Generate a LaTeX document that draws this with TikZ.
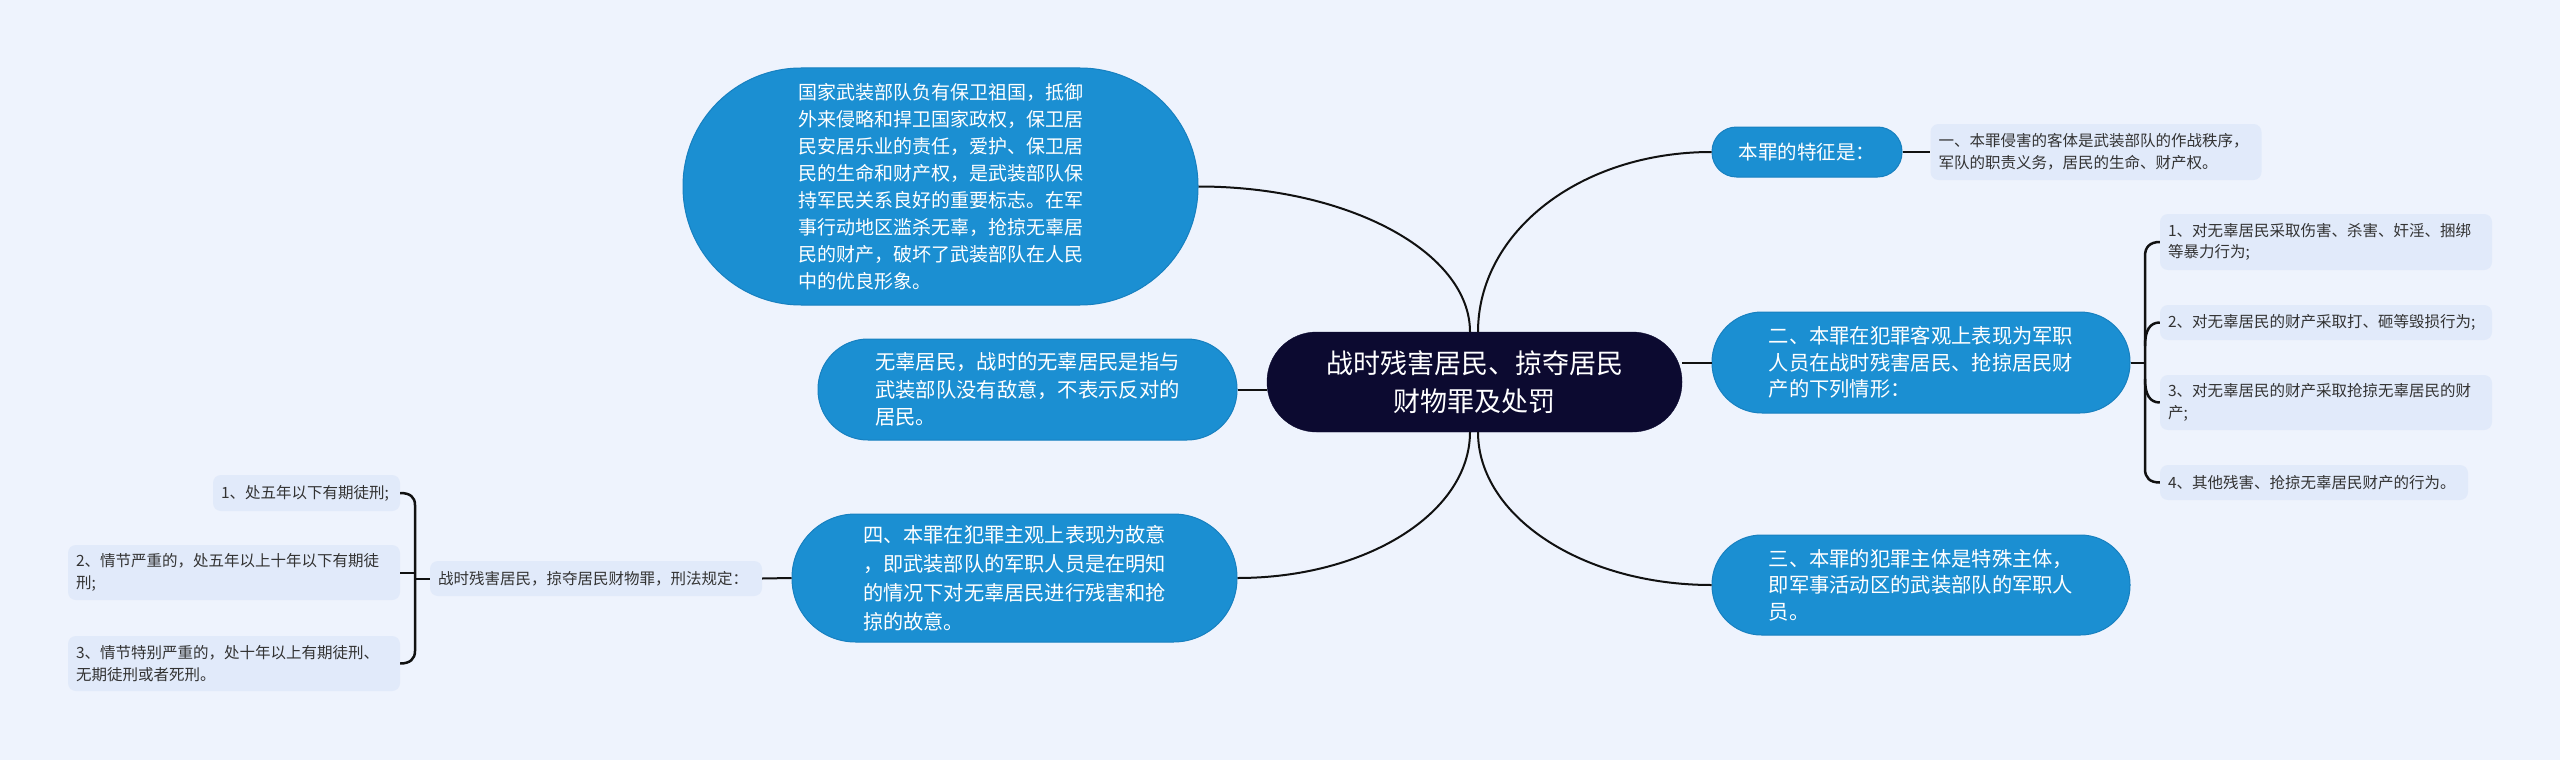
\documentclass[tikz,border=0pt]{standalone}
\usepackage{fontspec}
\setmainfont{Noto Sans CJK SC}
\newcommand{\myfs}[2]{\fontsize{#1}{#2}\selectfont}
\definecolor{bg}{HTML}{EEF3FD}
\definecolor{nodeblue}{HTML}{1B8FD2}
\definecolor{nodeborder}{HTML}{1780C0}
\definecolor{navy}{HTML}{0C0A30}
\definecolor{leaffill}{HTML}{E1EAFA}
\definecolor{leaftext}{HTML}{333333}
\definecolor{linecol}{HTML}{111111}
\begin{document}
\begin{tikzpicture}[x=1pt,y=-1pt,
  bluebox/.style={fill=nodeblue, draw=nodeborder, line width=1pt, text=white, inner sep=0pt, align=left},
  rootbox/.style={fill=navy, draw=navy, text=white, inner sep=0pt, align=center},
  leaf/.style={fill=leaffill, rounded corners=8pt, text=leaftext, inner xsep=8pt, inner ysep=0pt, align=left, font=\myfs{15.5}{21.5}},
  conn/.style={draw=linecol, line width=2pt},
  brace/.style={draw=linecol, line width=2.5pt}]
\fill[bg] (0,0) rectangle (2560,760);
\useasboundingbox (0,0) rectangle (2560,760);

% central
\node[rootbox, minimum width=415pt, minimum height=100pt, rounded corners=49.5pt, font=\myfs{27}{38}] (c) at (1474.5,382) {战时残害居民、掠夺居民\\财物罪及处罚};

% left side
\node[bluebox, minimum width=515pt, minimum height=237pt, rounded corners=118pt, font=\myfs{19}{27}] (big) at (940.5,186.5) {国家武装部队负有保卫祖国，抵御\\外来侵略和捍卫国家政权，保卫居\\民安居乐业的责任，爱护、保卫居\\民的生命和财产权，是武装部队保\\持军民关系良好的重要标志。在军\\事行动地区滥杀无辜，抢掠无辜居\\民的财产，破坏了武装部队在人民\\中的优良形象。};
\node[bluebox, minimum width=419pt, minimum height=101pt, rounded corners=50pt, font=\myfs{20.3}{27.5}] (wg) at (1027.5,389.5) {无辜居民，战时的无辜居民是指与\\武装部队没有敌意，不表示反对的\\居民。};
\node[bluebox, minimum width=445pt, minimum height=128pt, rounded corners=63.5pt, font=\myfs{20.2}{29}] (si) at (1014.5,578) {四、本罪在犯罪主观上表现为故意\\，即武装部队的军职人员是在明知\\的情况下对无辜居民进行残害和抢\\掠的故意。};
\node[leaf, minimum height=35pt, text width=316pt] (lbl) at (596,578.5) {战时残害居民，掠夺居民财物罪，刑法规定：};
\node[leaf, minimum height=36pt, text width=171pt] (l1) at (306.5,493) {1、处五年以下有期徒刑;};
\node[leaf, minimum height=55pt, text width=316pt] (l2) at (234,572.5) {2、情节严重的，处五年以上十年以下有期徒\\刑;};
\node[leaf, minimum height=55pt, text width=316pt] (l3) at (234,663.5) {3、情节特别严重的，处十年以上有期徒刑、\\无期徒刑或者死刑。};

% right side
\node[bluebox, minimum width=190pt, minimum height=50pt, rounded corners=24.5pt, font=\myfs{19.5}{26}] (tz) at (1807,152) {本罪的特征是：};
\node[leaf, minimum height=56pt, text width=315pt, font=\myfs{15.5}{22}] (tzc) at (2096,152) {一、本罪侵害的客体是武装部队的作战秩序，\\军队的职责义务，居民的生命、财产权。};
\node[bluebox, minimum width=418pt, minimum height=101pt, rounded corners=50pt, font=\myfs{20.3}{26.5}] (er) at (1921,362.5) {二、本罪在犯罪客观上表现为军职\\人员在战时残害居民、抢掠居民财\\产的下列情形：};
\node[bluebox, minimum width=418pt, minimum height=100pt, rounded corners=49.5pt, font=\myfs{20.3}{26.5}] (san) at (1921,585) {三、本罪的犯罪主体是特殊主体，\\即军事活动区的武装部队的军职人\\员。};
\node[leaf, minimum height=56pt, text width=316pt] (r1) at (2326,242) {1、对无辜居民采取伤害、杀害、奸淫、捆绑\\等暴力行为;};
\node[leaf, minimum height=35pt, text width=316pt] (r2) at (2326,322.5) {2、对无辜居民的财产采取打、砸等毁损行为;};
\node[leaf, minimum height=55pt, text width=316pt] (r3) at (2326,402.5) {3、对无辜居民的财产采取抢掠无辜居民的财\\产;};
\node[leaf, minimum height=35pt, text width=292pt] (r4) at (2314,482.5) {4、其他残害、抢掠无辜居民财产的行为。};

% coordinates
\coordinate (cnl) at (1470,332);
\coordinate (cnr) at (1478,332);
\coordinate (csl) at (1470,432);
\coordinate (csr) at (1478,432);
\coordinate (lbx) at (415,578.5);
\coordinate (lbt) at (415,505);
\coordinate (lbb) at (415,651);
\coordinate (lb2) at (415,572.5);
\coordinate (rbx) at (2145,362.5);
\coordinate (rbt) at (2145,256);
\coordinate (rbb) at (2145,469);
\coordinate (rb2) at (2145,346);
\coordinate (rb3) at (2145,379);

% main connectors
\draw[conn] (cnl) .. controls (1470,252) and (1348,186.5) .. (big.east);
\draw[conn] (cnr) .. controls (1478,232) and (1580,152) .. (tz.west);
\draw[conn] (csl) .. controls (1470,513) and (1366,578) .. (si.east);
\draw[conn] (csr) .. controls (1478,516) and (1582,585) .. (san.west);
\draw[conn] (c.west |- wg.east) -- (wg.east);
\draw[conn] (c.east |- er.west) -- (er.west);
\draw[conn] (tz.east) -- (tzc.west);
\draw[conn] (si.west) -- (lbl.east);

% left brace
\draw[conn] (lbl.west) -- (lbx);
\draw[conn] (l2.east) -- (lb2);
\draw[brace] (l1.east) .. controls (410,493) and (415,497) .. (lbt) -- (lbb) .. controls (415,659) and (410,663.5) .. (l3.east);

% right brace
\draw[conn] (er.east) -- (rbx);
\draw[brace] (r1.west) .. controls (2150,242) and (2145,247) .. (rbt) -- (rbb) .. controls (2145,478) and (2150,482.5) .. (r4.west);
\draw[brace] (rb2) .. controls (2145,330) and (2150,322.5) .. (r2.west);
\draw[brace] (rb3) .. controls (2145,395) and (2150,402.5) .. (r3.west);
\end{tikzpicture}
\end{document}
